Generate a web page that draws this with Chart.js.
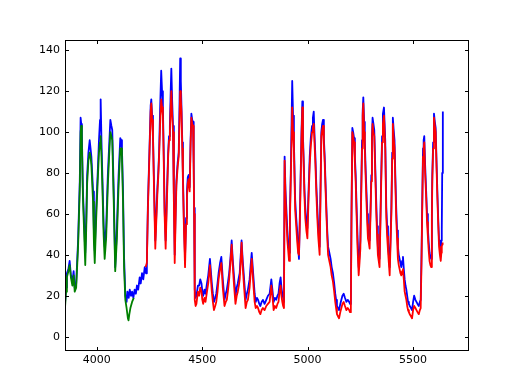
<!DOCTYPE html>
<html>
<head>
<meta charset="utf-8">
<script src="https://cdn.jsdelivr.net/npm/chart.js@4/dist/chart.umd.min.js"></script>
<style>
  html, body { margin: 0; padding: 0; background: #fff; }
  #wrap { width: 520px; height: 390px; }
</style>
</head>
<body>
<div id="wrap"><canvas id="plot" width="520" height="390"></canvas></div>
<script>
// axis ticks
const xTicks = [4000, 4500, 5000, 5500];
const yTicks = [0, 20, 40, 60, 80, 100, 120, 140];

// blue series
const blueX = [3850, 3855, 3859, 3866, 3872, 3878, 3885, 3891, 3896, 3903, 3912, 3920, 3924, 3927, 3930, 3935, 3941, 3946, 3950, 3955, 3961, 3967,
  3971, 3975, 3983, 3987, 3991, 3998, 4005, 4011, 4016, 4019, 4023, 4027, 4033, 4038, 4045, 4053, 4060, 4065, 4070, 4074, 4081, 4088, 4096, 4104, 4112,
  4116, 4120, 4125, 4130, 4136, 4142, 4146, 4152, 4157, 4163, 4168, 4174, 4180, 4186, 4191, 4197, 4204, 4209, 4215, 4221, 4228, 4234, 4238, 4243, 4250, 4256, 4259, 4263, 4267, 4272, 4278, 4283, 4288, 4292, 4296,
  4301, 4306, 4310, 4314, 4318, 4322, 4327, 4333, 4339, 4343, 4347, 4351, 4354, 4358, 4362, 4366, 4370, 4374, 4378, 4384, 4389, 4393, 4396, 4399, 4402, 4406, 4409, 4414, 4419, 4424, 4428, 4432, 4436, 4441, 4445, 4449, 4453, 4457,
  4460, 4462, 4465, 4469, 4473, 4480, 4486, 4491, 4497, 4501, 4505, 4511, 4516, 4523, 4529, 4537, 4546, 4551, 4556, 4562, 4567, 4573, 4578, 4585, 4591, 4598, 4606, 4612, 4617, 4623, 4628, 4634, 4640,
  4645, 4650, 4658, 4664, 4669, 4674, 4678, 4683, 4687, 4692, 4697, 4706, 4712, 4717, 4725, 4730, 4735, 4744, 4749, 4754, 4760, 4765, 4771, 4776, 4782, 4788, 4796, 4804, 4812, 4820, 4828, 4834, 4839, 4845, 4851,
  4857, 4862, 4867, 4872, 4876, 4880, 4884, 4888, 4891, 4895, 4899, 4904, 4908, 4912, 4916, 4920, 4924, 4927, 4931, 4935, 4941, 4946, 4951, 4955, 4959, 4963, 4967, 4971, 4975, 4978, 4981, 4985, 4989, 4994, 4999, 5004, 5010,
  5015, 5021, 5025, 5029, 5033, 5037, 5041, 5046, 5051, 5057, 5061, 5065, 5069, 5073, 5077, 5081, 5085, 5089, 5093, 5097, 5103, 5109, 5114, 5120, 5126, 5131, 5135, 5139, 5144, 5149, 5155, 5160, 5165, 5171, 5177, 5184, 5190, 5197, 5201, 5205,
  5208, 5212, 5216, 5220, 5224, 5228, 5232, 5236, 5242, 5246, 5250, 5254, 5258, 5261, 5264, 5268, 5271, 5275, 5279, 5283, 5286, 5290, 5294, 5298, 5302, 5305, 5308, 5312, 5316, 5321, 5325, 5329, 5333, 5337, 5341, 5345, 5349, 5353, 5357,
  5362, 5365, 5368, 5373, 5377, 5381, 5385, 5389, 5393, 5397, 5401, 5404, 5408, 5412, 5416, 5420, 5424, 5428, 5432, 5436, 5440, 5444, 5448, 5452, 5456, 5460, 5464, 5468, 5472, 5476, 5480, 5484, 5490, 5495, 5500, 5505, 5511, 5516, 5521,
  5527, 5532, 5536, 5540, 5543, 5547, 5550, 5553, 5557, 5562, 5566, 5570, 5574, 5578, 5582, 5586, 5589, 5591, 5595, 5599, 5603, 5607, 5611, 5615, 5619, 5623, 5627, 5631, 5634, 5636, 5638, 5641];
const blueY = [16, 24, 31, 33, 37, 30, 27, 32, 24, 26, 47, 76, 107, 104, 99, 71, 55, 41, 54, 79, 90, 96,
  92, 88, 71, 52, 42, 63, 80, 96, 106, 116, 95, 79, 55, 44, 53, 79, 95, 106, 103, 101, 71, 34, 53, 79, 97,
  96, 92, 71, 39, 20, 17, 22, 19, 23, 20, 22, 19, 23, 21, 25, 23, 29, 26, 31, 28, 34, 31, 36, 65, 90, 113, 116, 108, 99, 75, 47, 60, 73, 80, 90,
  112, 130, 120, 113, 90, 63, 47, 70, 90, 98, 103, 120, 131, 115, 103, 70, 40, 60, 76, 85, 90, 115, 136, 125, 113, 95, 79, 55, 39, 58, 71, 78, 79, 73, 95, 109, 106, 105,
  85, 63, 23, 19, 20, 25, 25, 28, 26, 22, 20, 23, 21, 26, 30, 38, 26, 21, 17, 19, 21, 26, 31, 36, 39, 28, 18, 21, 23, 27, 31, 38, 47,
  38, 31, 20, 24, 26, 29, 31, 40, 47, 38, 31, 18, 21, 23, 28, 35, 41, 28, 21, 17, 19, 18, 16, 15, 17, 18, 16, 18, 20, 21, 28, 22, 17, 19, 18,
  20, 21, 26, 29, 24, 21, 19, 17, 88, 72, 63, 52, 46, 41, 60, 79, 105, 125, 108, 96, 67, 58, 51, 44, 38, 58, 79, 100, 115, 98, 88, 72, 63, 56, 53, 70, 88,
  97, 103, 107, 110, 98, 88, 75, 63, 52, 44, 72, 100, 104, 106, 97, 88, 75, 63, 52, 44, 41, 38, 34, 31, 26, 21, 18, 15, 14, 13, 16, 18, 20, 21, 19, 17, 18, 17, 16, 17,
  60, 102, 100, 97, 88, 79, 64, 51, 34, 40, 47, 72, 96, 110, 117, 105, 96, 82, 71, 60, 53, 50, 47, 62, 79, 98, 107, 104, 101, 82, 67, 54, 44, 41, 38, 58, 79, 98, 109,
  112, 104, 96, 63, 54, 47, 40, 34, 48, 63, 90, 107, 101, 96, 78, 63, 52, 44, 40, 38, 36, 34, 37, 39, 33, 28, 25, 23, 20, 17, 16, 15, 14, 13, 17, 20, 18, 17, 16,
  15, 17, 18, 40, 63, 92, 96, 98, 84, 71, 60, 53, 46, 41, 39, 38, 60, 79, 95, 109, 105, 102, 86, 71, 58, 47, 44, 41, 47, 53, 80, 110];

// green series
const greenX = [3850, 3855, 3859, 3866, 3872, 3878, 3885, 3891, 3896, 3903, 3912, 3920, 3924, 3927, 3930, 3935, 3941, 3946, 3950, 3955, 3961, 3967,
  3971, 3975, 3983, 3987, 3991, 3998, 4005, 4011, 4016, 4019, 4023, 4027, 4033, 4038, 4045, 4053, 4060, 4065, 4070, 4074, 4081, 4088, 4096, 4104, 4112,
  4116, 4120, 4125, 4130, 4136, 4142, 4148, 4151, 4155, 4160, 4168, 4176];
const greenY = [14, 22, 29, 32, 35, 29, 25, 30, 22, 24, 44, 72, 100, 103, 95, 68, 50, 35, 50, 75, 86, 90,
  88, 84, 66, 46, 36, 58, 76, 90, 95, 98, 88, 74, 50, 38, 48, 74, 90, 100, 98, 96, 66, 32, 48, 74, 92,
  92, 88, 66, 34, 18, 14, 9, 8, 11, 14, 17, 19];

// red series
const redX = [4232, 4238, 4243, 4250, 4256, 4259, 4263, 4267, 4272, 4278, 4283, 4288, 4292, 4296,
  4301, 4306, 4310, 4314, 4318, 4322, 4327, 4333, 4339, 4343, 4347, 4351, 4354, 4358, 4362, 4366, 4370, 4374, 4378, 4384, 4389, 4393, 4396, 4399, 4402, 4406, 4409, 4414, 4419, 4424, 4428, 4432, 4436, 4441, 4445, 4449, 4453, 4457,
  4460, 4462, 4465, 4469, 4473, 4480, 4486, 4491, 4497, 4501, 4505, 4511, 4516, 4523, 4529, 4537, 4546, 4551, 4556, 4562, 4567, 4573, 4578, 4585, 4591, 4598, 4606, 4612, 4617, 4623, 4628, 4634, 4640,
  4645, 4650, 4658, 4664, 4669, 4674, 4678, 4683, 4687, 4692, 4697, 4706, 4712, 4717, 4725, 4730, 4735, 4744, 4749, 4754, 4760, 4765, 4771, 4776, 4782, 4788, 4796, 4804, 4812, 4820, 4828, 4834, 4839, 4845, 4851,
  4857, 4862, 4867, 4872, 4876, 4880, 4884, 4888, 4891, 4895, 4899, 4904, 4908, 4912, 4916, 4920, 4924, 4927, 4931, 4935, 4941, 4946, 4951, 4955, 4959, 4963, 4967, 4971, 4975, 4978, 4981, 4985, 4989, 4994, 4999, 5004, 5010,
  5015, 5021, 5025, 5029, 5033, 5037, 5041, 5046, 5051, 5057, 5061, 5065, 5069, 5073, 5077, 5081, 5085, 5089, 5093, 5097, 5103, 5109, 5114, 5120, 5126, 5131, 5135, 5139, 5144, 5149, 5155, 5160, 5165, 5171, 5177, 5184, 5190, 5197, 5201, 5205,
  5208, 5212, 5216, 5220, 5224, 5228, 5232, 5236, 5242, 5246, 5250, 5254, 5258, 5261, 5264, 5268, 5271, 5275, 5279, 5283, 5286, 5290, 5294, 5298, 5302, 5305, 5308, 5312, 5316, 5321, 5325, 5329, 5333, 5337, 5341, 5345, 5349, 5353, 5357,
  5362, 5365, 5368, 5373, 5377, 5381, 5385, 5389, 5393, 5397, 5401, 5404, 5408, 5412, 5416, 5420, 5424, 5428, 5432, 5436, 5440, 5444, 5448, 5452, 5456, 5460, 5464, 5468, 5472, 5476, 5480, 5484, 5490, 5495, 5500, 5505, 5511, 5516, 5521,
  5527, 5532, 5536, 5540, 5543, 5547, 5550, 5553, 5557, 5562, 5566, 5570, 5574, 5578, 5582, 5586, 5589, 5591, 5595, 5599, 5603, 5607, 5611, 5615, 5619, 5623, 5627, 5631, 5634, 5636, 5638, 5640];
const redY = [34, 36, 62, 88, 110, 114, 106, 97, 72, 43, 57, 70, 78, 88,
  104, 116, 112, 108, 86, 60, 43, 66, 88, 96, 100, 112, 120, 108, 100, 66, 36, 56, 74, 83, 88, 106, 120, 116, 110, 92, 76, 52, 34, 55, 68, 75, 77, 71, 92, 107, 104, 103,
  82, 60, 18, 15, 16, 22, 20, 24, 22, 18, 16, 19, 17, 22, 26, 35, 22, 17, 13, 15, 17, 22, 28, 33, 36, 24, 15, 17, 18, 23, 28, 36, 45,
  35, 27, 16, 20, 22, 25, 28, 37, 46, 35, 27, 14, 17, 18, 24, 31, 38, 24, 17, 14, 15, 14, 12, 11, 13, 14, 13, 15, 16, 17, 25, 19, 13, 15, 14,
  16, 17, 22, 25, 20, 17, 15, 14, 86, 68, 58, 47, 42, 37, 56, 76, 95, 112, 100, 92, 62, 54, 46, 41, 40, 55, 76, 97, 112, 95, 85, 69, 58, 52, 48, 66, 84,
  93, 100, 102, 104, 94, 84, 71, 58, 48, 40, 68, 98, 101, 103, 94, 85, 72, 60, 49, 40, 37, 34, 30, 27, 22, 17, 14, 11, 10, 9, 12, 14, 16, 17, 15, 13, 14, 13, 12, 13,
  58, 100, 98, 95, 85, 75, 60, 45, 30, 36, 43, 68, 92, 108, 114, 100, 92, 78, 66, 55, 48, 46, 43, 59, 76, 95, 104, 100, 98, 78, 62, 50, 40, 37, 34, 55, 76, 95, 104,
  108, 100, 92, 58, 49, 42, 36, 30, 45, 60, 87, 104, 97, 92, 74, 58, 48, 38, 35, 33, 31, 30, 32, 33, 28, 22, 20, 18, 15, 13, 12, 11, 10, 9, 13, 15, 14, 13, 12,
  11, 13, 14, 37, 60, 88, 92, 95, 80, 68, 56, 49, 42, 37, 35, 34, 57, 76, 92, 107, 103, 100, 83, 68, 55, 44, 40, 37, 41, 44, 45, 46];

const toPoints = (xs, ys) => xs.map((x, i) => ({ x: x, y: ys[i] }));

const font = { family: 'DejaVu Sans', size: 11 };

// frame + inward ticks, matplotlib style
const framePlugin = {
  id: 'frame',
  afterDatasetsDraw(chart) {
    const ctx = chart.ctx;
    const a = chart.chartArea;
    const xs = chart.scales.x, ys = chart.scales.y;
    const tl = 4;
    ctx.save();
    ctx.strokeStyle = '#000';
    ctx.lineWidth = 1;
    ctx.beginPath();
    xTicks.forEach(v => {
      const px = Math.round(xs.getPixelForValue(v)) + 0.5;
      ctx.moveTo(px, a.bottom); ctx.lineTo(px, a.bottom - tl);
      ctx.moveTo(px, a.top); ctx.lineTo(px, a.top + tl);
    });
    yTicks.forEach(v => {
      const py = Math.round(ys.getPixelForValue(v)) + 0.5;
      ctx.moveTo(a.left, py); ctx.lineTo(a.left + tl, py);
      ctx.moveTo(a.right, py); ctx.lineTo(a.right - tl, py);
    });
    ctx.stroke();
    ctx.strokeRect(a.left + 0.5, a.top + 0.5, a.right - a.left - 1, a.bottom - a.top - 1);
    ctx.restore();
  }
};

const ctx = document.getElementById('plot').getContext('2d');
const chart = new Chart(ctx, {
  type: 'line',
  data: {
    datasets: [
      { label: 'red', data: toPoints(redX, redY), borderColor: '#ff0000', borderWidth: 1.8 },
      { label: 'green', data: toPoints(greenX, greenY), borderColor: '#008000', borderWidth: 1.8 },
      { label: 'blue', data: toPoints(blueX, blueY), borderColor: '#0000ff', borderWidth: 1.8 }
    ]
  },
  options: {
    responsive: false,
    animation: false,
    elements: { point: { radius: 0 }, line: { tension: 0, fill: false, borderJoinStyle: 'round' } },
    layout: { padding: { left: 0, top: 40, right: 51, bottom: 0 } },
    plugins: { legend: { display: false }, tooltip: { enabled: false } },
    scales: {
      x: {
        type: 'linear',
        min: 3850,
        max: 5765,
        afterBuildTicks: s => { s.ticks = xTicks.map(v => ({ value: v })); },
        afterFit: s => { s.height = 39; },
        grid: { display: false, drawTicks: false },
        border: { display: false },
        ticks: { font, color: '#000', padding: 3, autoSkip: false, maxRotation: 0, callback: v => String(v) }
      },
      y: {
        type: 'linear',
        min: -7,
        max: 145,
        afterBuildTicks: s => { s.ticks = yTicks.map(v => ({ value: v })); },
        afterFit: s => { s.width = 65; },
        grid: { display: false, drawTicks: false },
        border: { display: false },
        ticks: { font, color: '#000', padding: 5, autoSkip: false, callback: v => String(v) }
      }
    }
  },
  plugins: [framePlugin]
});
</script>
</body>
</html>
